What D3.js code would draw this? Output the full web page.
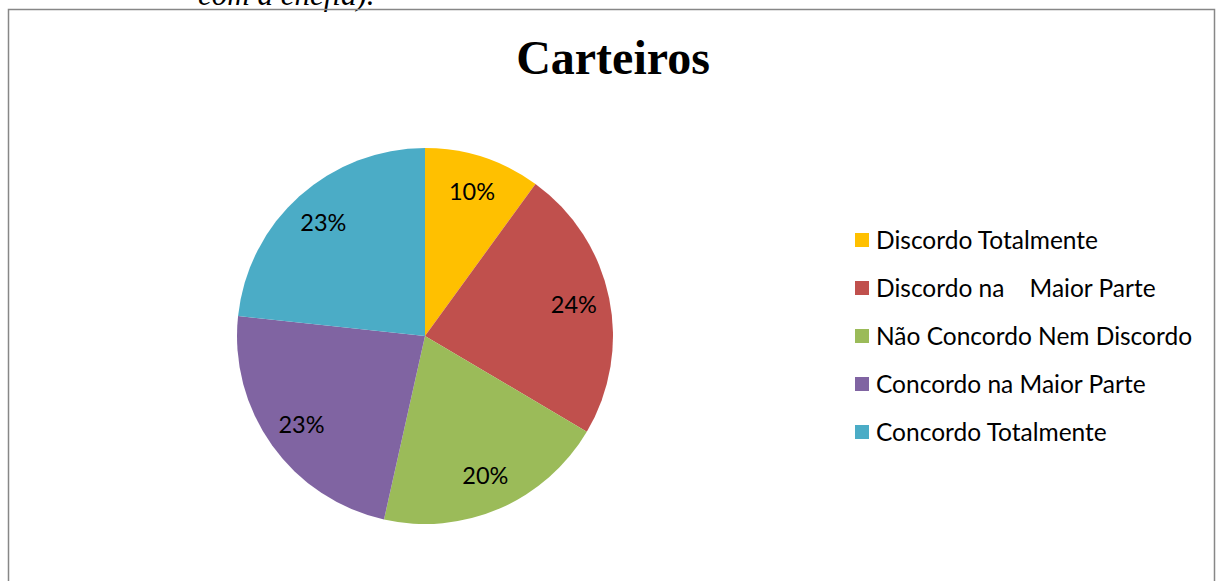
<!DOCTYPE html>
<html><head><meta charset="utf-8">
<script src="https://cdn.jsdelivr.net/npm/d3@7"></script>
<style>html,body{margin:0;padding:0;background:#fff;overflow:hidden}</style>
</head><body>
<script>
const categories = ["Discordo Totalmente","Discordo na    Maior Parte","Não Concordo Nem Discordo","Concordo na Maior Parte","Concordo Totalmente"];
const values = [10, 23.5, 20, 23.2, 23.3];
const colors = ["#FFC000","#C0504D","#9BBB59","#8064A2","#4BACC6"];
const title = "Carteiros";

const W = 1217, H = 581;
const svg = d3.select("body").append("svg").attr("width", W).attr("height", H);

// cut-off text from the page above
svg.append("text").attr("x", 198).attr("y", 5)
  .attr("font-family", "Liberation Serif").attr("font-style", "italic").attr("font-size", 31)
  .attr("fill", "#000").text("com a chefia).");

svg.append("rect").attr("x", 8.5).attr("y", 9.5).attr("width", 1206).attr("height", 600)
  .attr("fill", "none").attr("stroke", "#878787").attr("stroke-width", 1.5);

svg.append("text").attr("x", 613).attr("y", 74).attr("text-anchor", "middle")
  .attr("font-family", "Liberation Serif").attr("font-weight", "bold").attr("font-size", 48)
  .attr("fill", "#000").text(title);

const cx = 425, cy = 336, R = 188;
const total = d3.sum(values);
const pie = d3.pie().sort(null).value(d => d)(values);
const arc = d3.arc().innerRadius(0).outerRadius(R);
const labelArc = d3.arc().innerRadius(152).outerRadius(152);
const g = svg.append("g").attr("transform", `translate(${cx},${cy})`);
g.selectAll("path").data(pie).join("path").attr("d", arc).attr("fill", (d, i) => colors[i]);
g.selectAll("text").data(pie).join("text")
  .attr("transform", d => `translate(${labelArc.centroid(d)})`)
  .attr("text-anchor", "middle").attr("dy", "0.35em")
  .attr("font-family", "Lato").attr("font-size", 23.5).attr("fill", "#000")
  .text(d => Math.round(d.data / total * 100) + "%");

const leg = svg.append("g");
const rows = leg.selectAll("g").data(categories).join("g")
  .attr("transform", (d, i) => `translate(855,${240 + i * 48})`);
rows.append("rect").attr("x", 0).attr("y", -7).attr("width", 14).attr("height", 14)
  .attr("fill", (d, i) => colors[i]);
rows.append("text").attr("x", 21).attr("y", 0).attr("dy", "0.35em")
  .attr("font-family", "Lato").attr("font-size", 24.5).attr("fill", "#000")
  .attr("xml:space", "preserve").style("white-space", "pre")
  .text(d => d);
</script>
</body></html>
